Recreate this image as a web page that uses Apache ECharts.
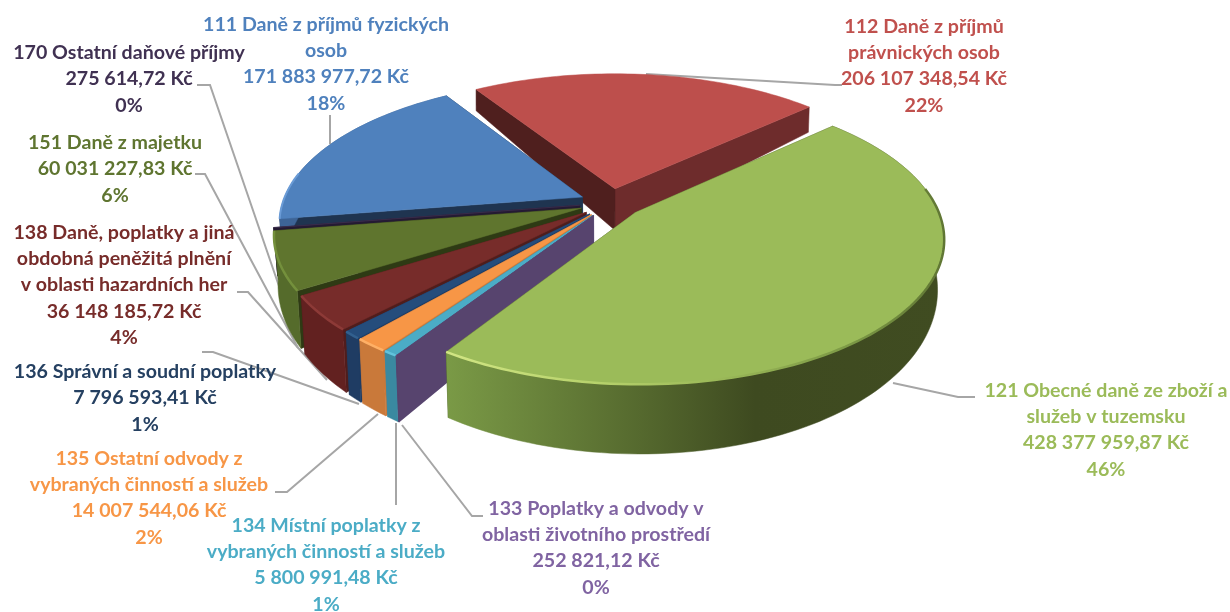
<!DOCTYPE html>
<html><head><meta charset="utf-8">
<style>html,body{margin:0;padding:0;background:#fff}#c{width:1230px;height:612px}</style>
<script src="https://cdn.jsdelivr.net/npm/echarts@6/dist/echarts.min.js"></script>
</head><body><div id="c"></div>
<script>
const categories=["111 Daně z příjmů fyzických\nosob","112 Daně z příjmů\nprávnických osob","121 Obecné daně ze zboží a\nslužeb v tuzemsku","133 Poplatky a odvody v\noblasti životního prostředí","134 Místní poplatky z\nvybraných činností a služeb","135 Ostatní odvody z\nvybraných činností a služeb","136 Správní a soudní poplatky","138 Daně, poplatky a jiná\nobdobná peněžitá plnění\nv oblasti hazardních her","151 Daně z majetku","170 Ostatní daňové příjmy"];
const values=[171883977.72,206107348.54,428377959.87,252821.12,5800991.48,14007544.06,7796593.41,36148185.72,60031227.83,275614.72];

const topColors=['#4f81bd','#bd4f4c','#9bbb59','#5a4570','#4bacc6','#f79646','#254d7c','#772c2a','#5f752e','#3f3151'];
const labelColors=['#4f81bd','#c0504d','#9bbb59','#8064a2','#4bacc6','#f79646','#254061','#772c2a','#5f7530','#403152'];
const startWall=['#1f3450','#4f1f1e','#3f4a20','#57446e','#3a89a0','#c9793a','#1f3c63','#4f1d1c','#2e3a14','#241a33'];
const endWall=['#1f3450','#6e2c2c','#3f4a20','#57446e','#3a89a0','#c9793a','#1f3c63','#4f1d1c','#2e3a14','#241a33'];
const rimColors=[null,null,null,'#6b5485','#62c3dc','#ffb066','#32608f','#8d3a37','#74903c',null];
const drawOrder=[1,0,9,8,7,6,5,4,3,2];
const labelX=[326,924,1106,596,326,149,145,124,115,129];
const labelY=[64,66,430,548,565,498,398,285,169,79];
const leaders=[
 [[330,115],[330,144]],
 [[646,74],[835,85],[842,85]],
 [[893,383],[958,397],[975,397]],
 [[483,516],[472,516],[402,425]],
 [[396,505],[396,423]],
 [[275,492],[287,492],[378,414]],
 [[202,352],[213,352],[359,404]],
 [[237,292],[248,292],[327,380]],
 [[195,174],[205,174],[298,348]],
 [[197,85],[210,85],[281,292]]
];

const total=values.reduce((a,b)=>a+b,0);
const START=-98.9,CX=611,CY=203,A=300,B=139,P=0.17,EXPLODE=0.105;
const rad=d=>d*Math.PI/180;
let acc=START;
const spans=values.map(v=>{const a0=acc;acc+=v/total*360;return [a0,acc];});

function project(u,v,down){
  const s=1/(1-P*v);let x=CX+A*u*s,y=CY+B*v*s;
  if(down){x-=(x-CX)*(x<CX?0.012:0.02)*Math.min(1,1+v);y+=44+24*v;}
  return [x,y];
}
function fmt(n){
  const [i,d]=n.toFixed(2).split('.');
  return i.replace(/\B(?=(\d{3})+(?!\d))/g,' ')+','+d+' Kč';
}
const G=(c)=>new echarts.graphic.LinearGradient(0,0,1,0,c);

function renderItem(params,api){
  const idx=api.value(1);
  const [a0,a1]=spans[idx],mid=rad((a0+a1)/2);
  const ou=EXPLODE*Math.sin(mid),ov=-EXPLODE*Math.cos(mid);
  const rimPts=[],botPts=[];
  const n=Math.max(2,Math.ceil((a1-a0)/1.5));
  for(let i=0;i<=n;i++){
    const t=rad(a0+(a1-a0)*i/n);
    const u=ou+Math.sin(t),v=ov-Math.cos(t);
    rimPts.push(project(u,v,false));botPts.push(project(u,v,true));
  }
  const at=project(ou,ov,false),ab=project(ou,ov,true);
  const rank=drawOrder.indexOf(idx)*10;
  const children=[];
  let bandFill=endWall[idx];
  if(idx===2) bandFill=G([{offset:0,color:'#7a9a46'},{offset:.12,color:'#6f8b3f'},{offset:.36,color:'#586d30'},{offset:.62,color:'#3e4a20'},{offset:1,color:'#404c21'}]);
  if(idx===8) bandFill='#556b2b';
  if(idx===7) bandFill='#622120';
  if(idx===0) bandFill='#3d6496';
  children.push({type:'polygon',z2:rank,shape:{points:[at,rimPts[n],botPts[n],ab]},style:{fill:endWall[idx],stroke:endWall[idx],lineWidth:.5}});
  children.push({type:'polygon',z2:rank+1,shape:{points:[at,rimPts[0],botPts[0],ab]},style:{fill:startWall[idx],stroke:startWall[idx],lineWidth:.5}});
  if(idx!==1){
    children.push({type:'polygon',z2:rank+2,shape:{points:rimPts.concat(botPts.slice().reverse())},style:{fill:bandFill,stroke:bandFill,lineWidth:.5}});
  }
  children.push({type:'polygon',z2:rank+3,shape:{points:[at].concat(rimPts)},style:{fill:topColors[idx],stroke:topColors[idx],lineWidth:.5}});
  if(rimColors[idx]){
    children.push({type:'polyline',z2:rank+4,shape:{points:rimPts},style:{fill:null,stroke:rimColors[idx],lineWidth:2.5}});
  }
  if(idx===0){
    children.push({type:'polyline',z2:rank+4,shape:{points:rimPts.slice(0,Math.round(n*.3))},style:{fill:null,stroke:'#6a9bd6',lineWidth:2}});
  }
  if(idx===2){
    const front=rimPts.filter((q,i)=>{const t=a0+(a1-a0)*i/n;return t>=80;});
    children.push({type:'polyline',z2:rank+4,shape:{points:front},style:{fill:null,lineWidth:2.5,
      stroke:G([{offset:0,color:'#d2e684'},{offset:.3,color:'#b7d26c'},{offset:.55,color:'#9ab858'},{offset:.8,color:'#7d9a46'},{offset:1,color:'#5f7533'}])}});
  }
  return {type:'group',children};
}

const labelGraphics=categories.map((c,i)=>({
  type:'text',z:5,
  style:{text:c+'\n'+fmt(values[i])+'\n'+Math.round(values[i]/total*100)+'%',
    x:labelX[i],y:labelY[i],textAlign:'center',textVerticalAlign:'middle',
    font:'bold 19.6px Lato',lineHeight:26.3,fill:labelColors[i]}
}));
const leaderGraphics=leaders.map(p=>({type:'polyline',z:1,shape:{points:p},style:{fill:null,stroke:'#a6a6a6',lineWidth:2}}));

const chart=echarts.init(document.getElementById('c'));
chart.setOption({
  animation:false,backgroundColor:'#fff',
  graphic:leaderGraphics.concat(labelGraphics),
  series:[{type:'custom',coordinateSystem:'none',z:3,silent:true,renderItem,
    data:values.map((v,i)=>[v,i])}]
});
</script></body></html>
